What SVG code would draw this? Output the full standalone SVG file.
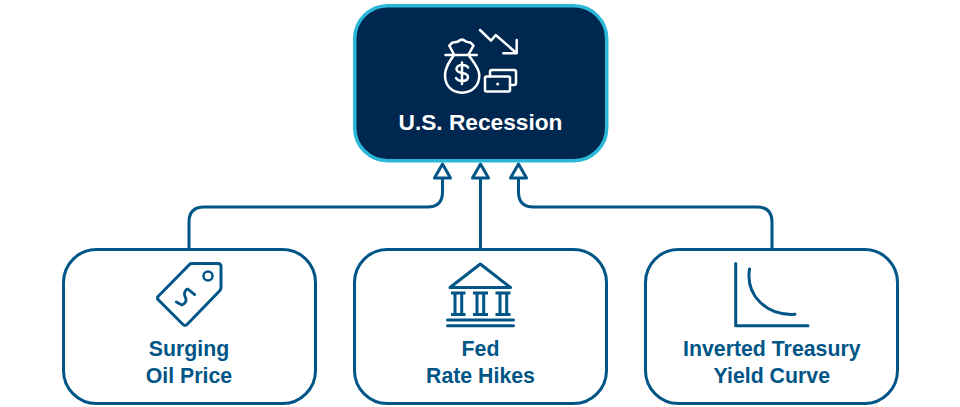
<svg xmlns="http://www.w3.org/2000/svg" width="960" height="407" viewBox="0 0 960 407">
<style>
.box{fill:#fff;stroke:#005587;stroke-width:3}
.ic{fill:none;stroke:#005587;stroke-width:3;stroke-linecap:round;stroke-linejoin:round}
.icw{fill:none;stroke:#fff;stroke-width:2.500;stroke-linecap:round;stroke-linejoin:round}
.t{font-family:"Liberation Sans",Arial,sans-serif;font-weight:700;font-size:21.300px;text-anchor:middle;fill:#005587}
.con{fill:none;stroke:#005587;stroke-width:3;stroke-linejoin:round}
</style>
<rect width="960" height="407" fill="#fff"/>
<g id="connectors">
<path class="con" d="M189 248V222Q189 207 204 207H427.500Q442.500 207 442.500 192V178"/>
<path class="con" d="M480.500 248V178"/>
<path class="con" d="M772 248V222Q772 207 757 207H533.500Q518.500 207 518.500 192V178"/>
<path class="con" d="M442.500 164L450.500 178H434.500Z"/>
<path class="con" d="M480.500 164L488.500 178H472.500Z"/>
<path class="con" d="M518.500 164L526.500 178H510.500Z"/>
</g>
<g id="node-recession">
<rect x="354.700" y="5.700" width="252" height="155" rx="33" fill="#00274f" stroke="#2bb8d8" stroke-width="3.500"/>
<path class="icw" d="M480 30L491 40.700L495.700 35L516.700 53.300M516.700 40V53.300H503.300"/>
<path class="icw" d="M445.500 55H476.700M454 55C449 62 445 68 445 75C445 86 452 92.700 462 92.700C472 92.700 479.300 86 479.300 75C479.300 68 473.500 62 468.500 55M454 54.500L449.300 45.700L452.500 42.500C455 42 457.500 42.500 459.500 40.500L462 39.500L464.500 40.500C466 42.500 468 42 470.500 42.500L473.500 45.700L468.500 54.500"/>
<path class="icw" d="M468 67.500C467 65.500 465 65 462 65C459 65 456.500 66.500 456.500 69C456.500 75 468 71 468 77C468 79.500 465.500 81 462 81C459 81 457 80 456 78M462 62.500V84"/>
<rect class="icw" x="485" y="76.500" width="25" height="15" rx="1.500"/>
<path class="icw" d="M490 76.500V72Q490 70 492 70H514Q516 70 516 72V83Q516 85 514 85H510"/>
<circle cx="497.700" cy="84" r="1.500" fill="#fff"/>
<text class="t" x="480.500" y="130" style="fill:#fff;font-size:22.700px">U.S. Recession</text>
</g>
<g id="node-oil">
<rect class="box" x="63.500" y="249.500" width="252" height="154" rx="33"/>
<path class="ic" d="M191.700 263.500H218Q221 263.500 221 266.500V287.500Q221 289.500 219.500 291L187 324.500Q185 326.500 183 324.500L158.500 300Q156.500 298 158.500 296L189.500 264.500Q190.500 263.500 191.700 263.500Z"/>
<circle class="ic" cx="208" cy="276" r="4.500" style="stroke-width:2.500"/>
<path class="ic" d="M176.300 302L182 305Q186.500 303 186 299Q183 293 186 290Q187.500 288.500 189 290L194.700 294.700" style="stroke-width:2.800"/>
<text class="t" x="189" y="355.500">Surging</text>
<text class="t" x="189" y="382.500">Oil Price</text>
</g>
<g id="node-fed">
<rect class="box" x="354.500" y="249.500" width="252" height="154" rx="33"/>
<path class="ic" d="M480.300 264L510.500 287.500H450Z"/>
<path class="ic" d="M451 293H465.500M451 314.500H465.500M473 293H488M473 314.500H488M495.500 293H510.500M495.500 314.500H510.500M455 293V314.500M461.700 293V314.500M477 293V314.500M483.700 293V314.500M500 293V314.500M506.700 293V314.500" style="stroke-linecap:butt"/>
<path class="ic" d="M447.500 320H513.500M447.500 325.700H513.500"/>
<text class="t" x="480.500" y="355.500">Fed</text>
<text class="t" x="480.500" y="382.500">Rate Hikes</text>
</g>
<g id="node-curve">
<rect class="box" x="645.500" y="249.500" width="252" height="154" rx="33"/>
<path class="ic" d="M735.700 263.500V325.700H808"/>
<path class="ic" d="M749.500 269C745.500 295 766 316 795 314.300"/>
<text class="t" x="771.800" y="355.500">Inverted Treasury</text>
<text class="t" x="771.800" y="382.500">Yield Curve</text>
</g>
</svg>
